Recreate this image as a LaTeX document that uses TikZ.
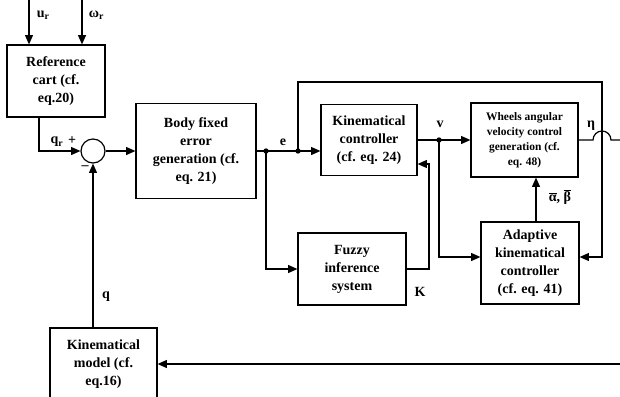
\documentclass[tikz,border=0pt]{standalone}
\usepackage{fontspec}
\setmainfont{Liberation Serif}
\usetikzlibrary{arrows.meta}

\begin{document}
\begin{tikzpicture}[x=0.75pt,y=-0.75pt,line width=0.9pt,
    blk/.style={draw,align=center,inner sep=1pt,font=\bfseries\fontsize{10.5}{13.5}\selectfont},
    lbl/.style={font=\bfseries\fontsize{10.5}{12}\selectfont,inner sep=1pt},
    >={Triangle[length=7pt,width=6pt]}]
            \useasboundingbox (0,0) rectangle (620,396);
            \clip (0,0) rectangle (620,396);
            \node[blk,minimum width=73.5pt,minimum height=54pt] (ref) at (56,81) {Reference\\cart (cf.\\eq.20)};
            \node[blk,minimum width=90pt,minimum height=71.25pt] (body) at (196,151) {Body fixed\\error\\generation (cf.\\eq. 21)};
            \node[blk,minimum width=72pt,minimum height=53.25pt] (kin) at (369,140) {Kinematical\\controller\\(cf. eq. 24)};
            \node[blk,minimum width=80.25pt,minimum height=55.5pt,font=\bfseries\fontsize{8.6}{11.2}\selectfont] (whl) at (524.5,140) {Wheels angular\\velocity\ control\\generation (cf.\\eq. 48)};
            \node[blk,minimum width=81pt,minimum height=54pt] (fuz) at (352,269) {Fuzzy\\inference\\system};
            \node[blk,minimum width=73.5pt,minimum height=61.5pt] (ada) at (530,263) {Adaptive\\kinematical\\controller\\(cf. eq. 41)};
            \node[blk,minimum width=80.25pt,minimum height=54pt] (mdl) at (103.5,364) {Kinematical\\model (cf.\\eq.16)};
            \node[draw,circle,minimum size=18pt,inner sep=0pt] (sum) at (93,151) {};
            \coordinate (uin) at (29,0);
            \coordinate (win) at (82,0);
            \coordinate (qrt) at (39,0);
            \coordinate (d1) at (266,151);
            \coordinate (d2) at (298,151);
            \coordinate (d3) at (439,140);
            \coordinate (fbk) at (602,82);
            \coordinate (y257) at (0,257);
            \coordinate (y164) at (0,164);
            \coordinate (xk) at (429,0);
            \coordinate (xa) at (536,0);
            \coordinate (eta) at (620,140);
            \coordinate (rin) at (620,364);
            \draw[->] (uin) -- (uin |- ref.north);
            \draw[->] (win) -- (win |- ref.north);
            \draw[->] (ref.south -| qrt) |- (sum.west);
            \draw[->] (sum.east) -- (body.west);
            \draw[->] (body.east) -- (body.east -| kin.west);
            \draw[->] (d1) |- (fuz.west);
            \draw[->] (d2) |- (fbk) |- (ada.east |- y257);
            \draw[->] (kin.east) -- (whl.west);
            \draw[->] (d3) |- (ada.west |- y257);
            \draw[->] (ada.north -| xa) -- (whl.south -| xa);
            \draw[->] (fuz.east) -| (xk |- y164) -- (kin.east |- y164);
            \draw (whl.east) -- (593,140) arc[start angle=180,end angle=360,radius=9] -- (eta);
            \draw[->] (rin) -- (rin -| mdl.east);
            \draw[->] (sum |- mdl.north) -- (sum.south);
            \fill (d1) circle (2pt);
            \fill (d2) circle (2pt);
            \fill (d3) circle (2pt);
            \node[lbl,anchor=west] (ulbl) at (35,15) {u\textsubscript{r}};
            \node[lbl,anchor=west] (wlbl) at (87,15) {ω\textsubscript{r}};
            \node[lbl] (qrlbl) at (57,142) {q\textsubscript{r}};
            \node[lbl] (plus) at (72,141) {+};
            \node[lbl] (minus) at (85,168) {\textendash};
            \node[lbl] (elbl) at (283,142) {e};
            \node[lbl] (vlbl) at (440,124) {v};
            \node[lbl] (etalbl) at (591,126) {η};
            \node[lbl] (klbl) at (420,292) {K};
            \node[lbl] (qlbl) at (106,297) {q};
            \node[lbl] (ablbl) at (560,197) {$\overline{\mbox{α}}$, $\overline{\mbox{β}}$};
        \end{tikzpicture}
\end{document}
